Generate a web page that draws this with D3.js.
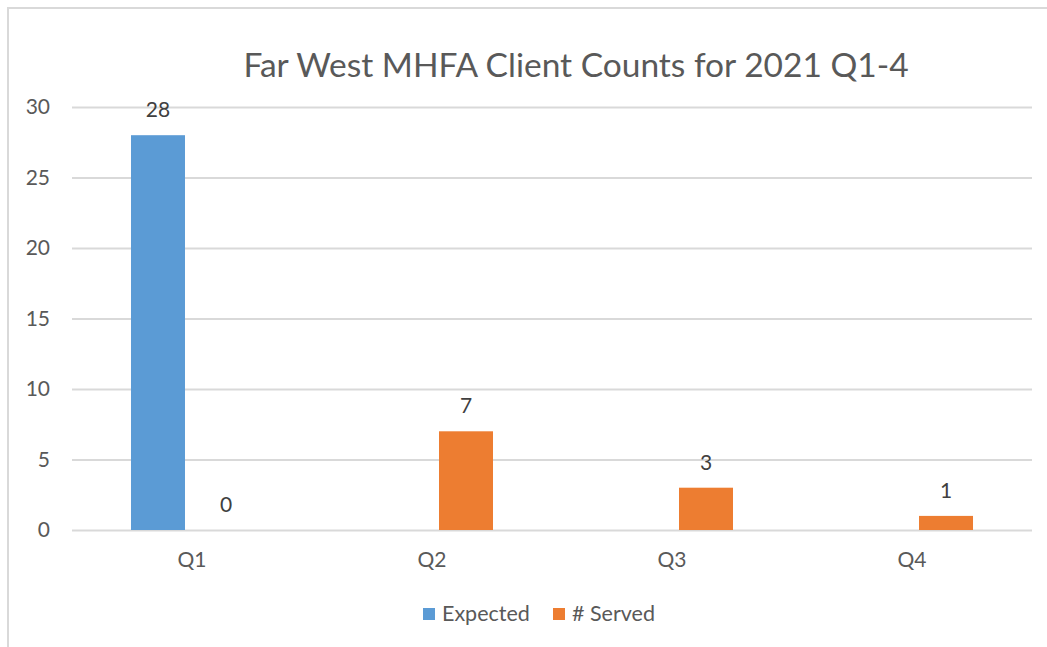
<!DOCTYPE html>
<html><head><meta charset="utf-8">
<script src="https://cdn.jsdelivr.net/npm/d3@7"></script>
<style>
html,body{margin:0;padding:0;background:#fff;}
svg{display:block;font-family:Lato,"Open Sans",sans-serif;}
</style></head>
<body>
<svg id="chart" width="1047" height="647"></svg>
<script>
const title = "Far West MHFA Client Counts for 2021 Q1-4";
const categories = ["Q1","Q2","Q3","Q4"];
const seriesNames = ["Expected","# Served"];
const expected = [28, null, null, null];
const served = [0, 7, 3, 1];
const yTicks = [0,5,10,15,20,25,30];
const colors = ["#5B9BD5","#ED7D31"];

const svg = d3.select("#chart");
const W = 1047, H = 647;
const m = {left:72, right:15, top:107, bottom:117};

// frame (cropped on right/bottom)
svg.append("rect").attr("x",8).attr("y",8).attr("width",W+20).attr("height",H+20)
  .attr("fill","#fff").attr("stroke","#D9D9D9").attr("stroke-width",2);

const x0 = d3.scaleBand().domain(categories).range([m.left, W-m.right])
  .paddingInner(0.4917).paddingOuter(0.2458);
const x1 = d3.scaleBand().domain(seriesNames).range([0, x0.bandwidth()]).paddingInner(0.206);
const y = d3.scaleLinear().domain([0,30]).range([H-m.bottom, m.top]);

// gridlines
const yAxis = d3.axisLeft(y).tickValues(yTicks).tickSize(-(W-m.right-m.left)).tickPadding(22);
const gy = svg.append("g").attr("transform",`translate(${m.left},0)`).call(yAxis);
gy.select(".domain").remove();
gy.selectAll(".tick line").attr("stroke","#D9D9D9").attr("stroke-width",2);
gy.selectAll(".tick text").attr("fill","#595959").style("font-size","21px")
  .attr("font-family","Lato,'Open Sans',sans-serif");

// x axis labels
const xAxis = d3.axisBottom(x0).tickSize(0).tickPadding(22);
const gx = svg.append("g").attr("transform",`translate(0,${y(0)})`).call(xAxis);
gx.select(".domain").remove();
gx.selectAll(".tick text").attr("fill","#595959").style("font-size","21px")
  .attr("font-family","Lato,'Open Sans',sans-serif");
gx.selectAll(".tick").attr("transform", d => `translate(${x0(d)+x0.bandwidth()/2},0)`);

const data = categories.map((c,i)=>({cat:c, vals:[
  {s:seriesNames[0], v:expected[i]},
  {s:seriesNames[1], v:served[i]}
]}));

const groups = svg.append("g").selectAll("g").data(data).join("g")
  .attr("transform", d=>`translate(${x0(d.cat)},0)`);

groups.selectAll("rect").data(d=>d.vals.filter(e=>e.v!==null)).join("rect")
  .attr("x", d=>x1(d.s)).attr("width", x1.bandwidth())
  .attr("y", d=>y(d.v)).attr("height", d=>y(0)-y(d.v))
  .attr("fill", d=>colors[seriesNames.indexOf(d.s)]);

groups.selectAll("text").data(d=>d.vals.filter(e=>e.v!==null)).join("text")
  .attr("x", d=>x1(d.s)+x1.bandwidth()/2).attr("y", d=>y(d.v)-18)
  .attr("text-anchor","middle").attr("fill","#404040").style("font-size","21px")
  .text(d=>d.v);

// title
svg.append("text").attr("x",576).attr("y",77).attr("text-anchor","middle")
  .attr("fill","#595959").style("font-size","33.5px").text(title);

// legend
const leg = svg.append("g");
const legItems = [{name:seriesNames[0], x:423},{name:seriesNames[1], x:553}];
legItems.forEach((it,i)=>{
  leg.append("rect").attr("x",it.x).attr("y",608).attr("width",12).attr("height",12).attr("fill",colors[i]);
  leg.append("text").attr("x",it.x+19).attr("y",621).attr("fill","#595959").style("font-size","21.5px").text(it.name);
});
</script>
</body></html>
